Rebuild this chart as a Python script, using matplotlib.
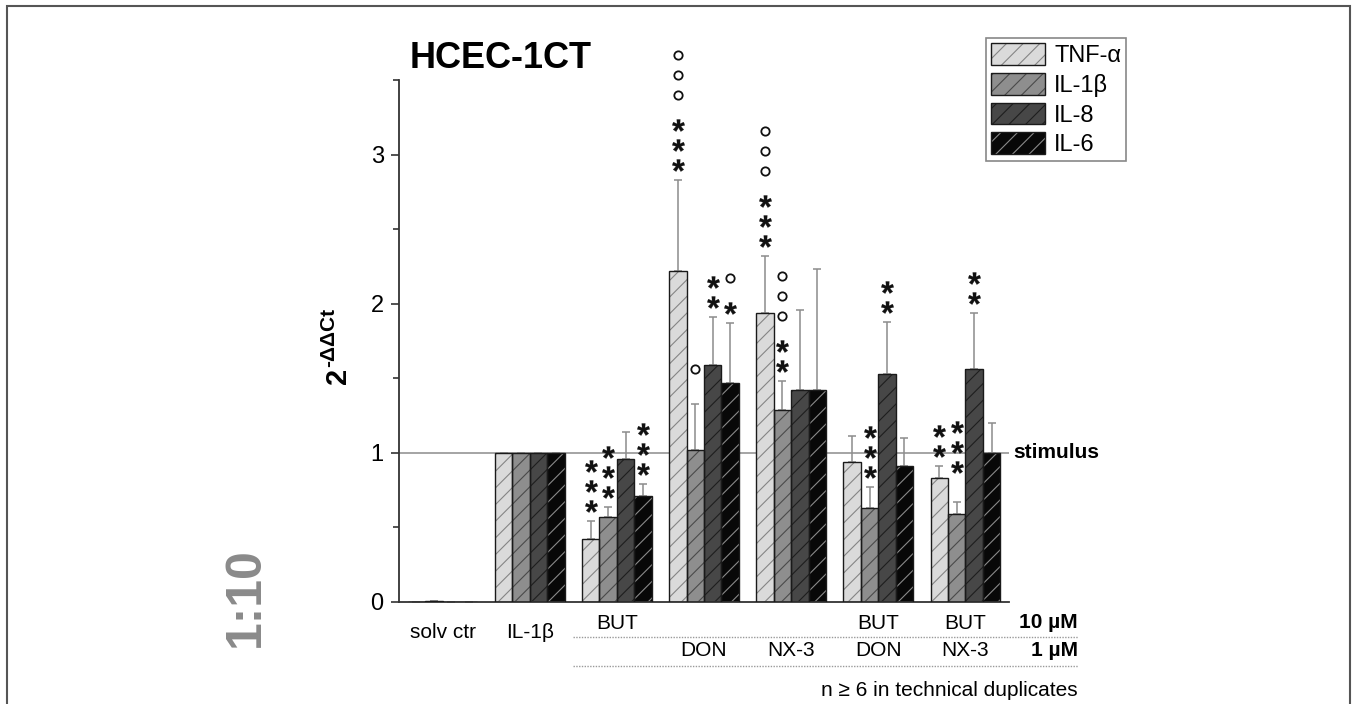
import numpy as np
import matplotlib
matplotlib.use("Agg")
import matplotlib.pyplot as plt
from matplotlib.patches import Patch, Rectangle
from matplotlib.lines import Line2D

plt.rcParams['font.family'] = ['Liberation Sans', 'DejaVu Sans']
plt.rcParams['hatch.linewidth'] = 0.8
plt.rcParams['mathtext.fontset'] = 'custom'
plt.rcParams['mathtext.rm'] = 'Liberation Sans'
plt.rcParams['mathtext.it'] = 'Liberation Sans:italic'
plt.rcParams['mathtext.bf'] = 'Liberation Sans:bold'

# data
groups = ['solv ctr', 'IL-1β', 'BUT', 'DON', 'NX-3', 'BUT+DON', 'BUT+NX-3']
row_10uM = ['', '', 'BUT', '', '', 'BUT', 'BUT']
row_1uM = ['', '', '', 'DON', 'NX-3', 'DON', 'NX-3']
mid_labels = ['solv ctr', 'IL-1β', '', '', '', '', '']
series = ['TNF-α', 'IL-1β', 'IL-8', 'IL-6']

tnf = [0.0, 1.0, 0.42, 2.22, 1.94, 0.94, 0.83]
il1b = [0.004, 1.0, 0.57, 1.02, 1.29, 0.63, 0.59]
il8 = [0.0, 1.0, 0.96, 1.59, 1.42, 1.53, 1.56]
il6 = [0.0, 1.0, 0.71, 1.47, 1.42, 0.91, 1.0]

tnf_err = [0.0, 0.0, 0.12, 0.61, 0.38, 0.17, 0.08]
il1b_err = [0.0, 0.0, 0.07, 0.31, 0.19, 0.14, 0.08]
il8_err = [0.0, 0.0, 0.18, 0.32, 0.54, 0.35, 0.38]
il6_err = [0.0, 0.0, 0.08, 0.40, 0.81, 0.19, 0.20]

# significance marks, written top to bottom ('o' circle, '*' star, ' ' empty slot)
tnf_sig = ['', '', '***', 'ooo***', 'ooo***', '', '**']
il1b_sig = ['', '', '***', 'o ', 'ooo**', '***', '*** ']
il8_sig = ['', '', '', '**', '', '**', '**']
il6_sig = ['', '', '***', 'o*', '', '', '']

values = [tnf, il1b, il8, il6]
errors = [tnf_err, il1b_err, il8_err, il6_err]
marks = [tnf_sig, il1b_sig, il8_sig, il6_sig]
fills = ['#dadada', '#8e8e8e', '#474747', '#080808']
hatch_cols = ['#858585', '#4a4a4a', '#1e1e1e', '#8a8a8a']

fig = plt.figure(figsize=(13.57, 7.04), dpi=100)
ax = fig.add_axes([399 / 1357, 102 / 704, 610 / 1357, 522 / 704])

x = np.arange(len(groups))
w = 0.2
offsets = [-1.5 * w, -0.5 * w, 0.5 * w, 1.5 * w]

ax.axhline(1, color='#8c8c8c', lw=1.1, zorder=1)

px_per_unit = 522 / 3.5
step = 20 / px_per_unit
for i in range(4):
    xi = x + offsets[i]
    ax.bar(xi, values[i], w, color=fills[i], edgecolor=hatch_cols[i], hatch='//', linewidth=0, zorder=2)
    ax.bar(xi, values[i], w, fill=False, edgecolor='#1a1a1a', linewidth=1.0, zorder=3)
    ax.errorbar(xi, values[i], yerr=[np.zeros(len(x)), errors[i]], fmt='none',
                ecolor='#8c8c8c', elinewidth=1.1, capsize=3, capthick=1.1, zorder=1.5)
    for j in range(len(x)):
        s = marks[i][j]
        if not s:
            continue
        y = values[i][j] + errors[i][j] + 15 / px_per_unit
        prev = None
        for ch in s[::-1]:
            if prev is not None and prev != ch and ch != ' ' and prev != ' ':
                y += 10 / px_per_unit
            if ch == '*':
                ax.plot(xi[j], y, marker=r'$\mathbf{*}$', ms=9, color='#111111', mew=0.2,
                        zorder=4, clip_on=False)
            elif ch == 'o':
                ax.plot(xi[j], y, marker='o', ms=6, mfc='none', mec='#111111', mew=1.3,
                        zorder=4, clip_on=False)
            prev = ch
            y += step

ax.set_xlim(-0.5, 6.5)
ax.set_ylim(0, 3.5)
ax.set_yticks([0, 1, 2, 3])
ax.set_yticks([0.5, 1.5, 2.5, 3.5], minor=True)
ax.set_xticks([])
ax.tick_params(axis='y', which='major', length=6, width=1.2, labelsize=17, pad=5, color='#333333')
ax.tick_params(axis='y', which='minor', length=4, width=1.2, color='#333333')
for side in ['top', 'right']:
    ax.spines[side].set_visible(False)
for side in ['left', 'bottom']:
    ax.spines[side].set_linewidth(1.3)
    ax.spines[side].set_color('#333333')

# category labels under the axis
tr = ax.get_xaxis_transform()
for j in range(len(x)):
    if row_10uM[j]:
        ax.text(x[j], -0.042, row_10uM[j], transform=tr, ha='center', va='center', fontsize=15)
    if row_1uM[j]:
        ax.text(x[j], -0.092, row_1uM[j], transform=tr, ha='center', va='center', fontsize=15)
    if mid_labels[j]:
        ax.text(x[j], -0.059, mid_labels[j], transform=tr, ha='center', va='center', fontsize=15)

xr = (1078 - 399) / 610
ax.text(xr, -0.040, '10 µM', transform=ax.transAxes, ha='right', va='center', fontsize=15, fontweight='bold')
ax.text(xr, -0.092, '1 µM', transform=ax.transAxes, ha='right', va='center', fontsize=15, fontweight='bold')
x0 = (573 - 399) / 610
for yy in [-0.067, -0.1225]:
    ax.add_line(Line2D([x0, xr], [yy, yy], transform=ax.transAxes, color='#9a9a9a',
                       lw=1.0, ls=(0, (1, 1)), clip_on=False))
ax.text(xr, -0.169, 'n ≥ 6 in technical duplicates', transform=ax.transAxes,
        ha='right', va='center', fontsize=15)

ax.text(1.007, 1.0, 'stimulus', transform=ax.get_yaxis_transform(),
        ha='left', va='center', fontsize=15, fontweight='bold')

fig.text(410 / 1357, (704 - 58) / 704, 'HCEC-1CT', ha='left', va='center', fontsize=26, fontweight='bold')

# y label: 2 with superscript -ΔΔCt (hyphen as in the original)
fig.text(338 / 1357, (704 - 384) / 704, '2', rotation=90, ha='center', va='bottom',
         fontsize=21, fontweight='bold')
fig.text(329 / 1357, (704 - 367) / 704, '-ΔΔCt', rotation=90, ha='center', va='bottom',
         fontsize=15, fontweight='bold')

fig.text(246 / 1357, (704 - 597) / 704, '1:10', rotation=90, ha='center', va='center',
         fontsize=36, fontweight='bold', color='#8a8a8a')

# legend
handles = []
for i in range(4):
    handles.append((Patch(facecolor=fills[i], edgecolor=hatch_cols[i], hatch='//', linewidth=0),
                    Patch(fill=False, edgecolor='#1a1a1a', linewidth=1.0)))
leg = fig.legend(handles, series, loc='upper right', bbox_to_anchor=(1126 / 1357, (704 - 38) / 704),
                 fontsize=17, frameon=True, fancybox=False, edgecolor='#888888', framealpha=1,
                 handlelength=2.3, handleheight=1.05, handletextpad=0.38, labelspacing=0.25,
                 borderpad=0.2, borderaxespad=0)
leg.get_frame().set_linewidth(1.2)

# outer frame
fig.patches.append(Rectangle((7 / 1357, -0.02), (1350 - 7) / 1357, (704 - 6) / 704 + 0.02,
                             transform=fig.transFigure, fill=False, edgecolor='#555555', lw=1.5))

fig.savefig('out.png', dpi=100)
